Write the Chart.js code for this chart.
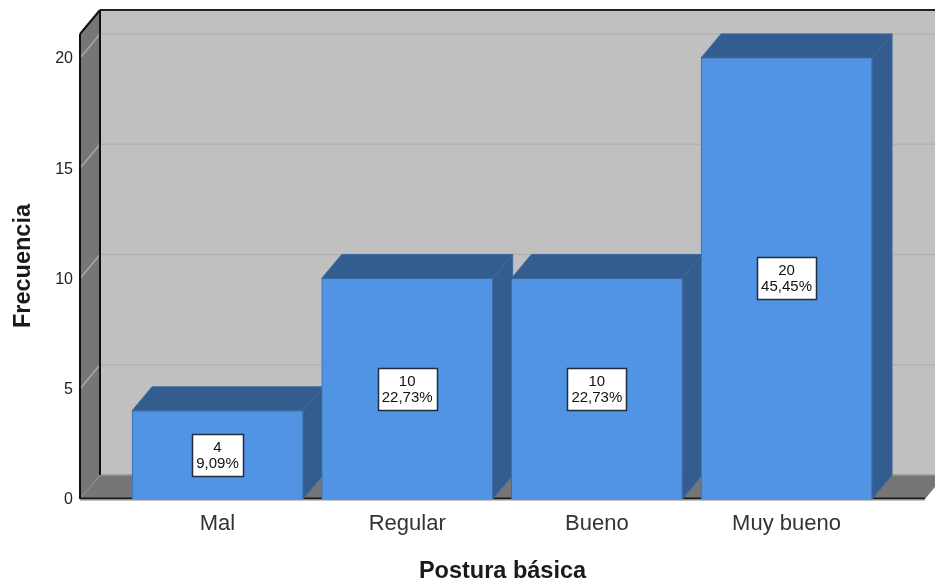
<!DOCTYPE html>
<html>
<head>
<meta charset="utf-8">
<title>Postura básica</title>
<script src="https://cdn.jsdelivr.net/npm/chart.js@4/dist/chart.umd.min.js"></script>
<style>
    html, body { margin: 0; padding: 0; background: #fff; }
    canvas { display: block; }
</style>
</head>
<body>
<canvas id="posturaChart" width="935" height="582"></canvas>
<script>
const categories = ["Mal", "Regular", "Bueno", "Muy bueno"];
const frecuencias = [4, 10, 10, 20];
const porcentajes = ["9,09%", "22,73%", "22,73%", "45,45%"];
const yTicks = [0, 5, 10, 15, 20];

// profundidad del efecto 3D
const DEPTH_X = 20;
const DEPTH_Y = 24;
const FONT = '"Liberation Sans", Arial, sans-serif';

function poly(ctx, pts, fill, stroke, lw) {
    ctx.beginPath();
    pts.forEach((p, i) => (i ? ctx.lineTo(p[0], p[1]) : ctx.moveTo(p[0], p[1])));
    ctx.closePath();
    if (fill) {
        ctx.fillStyle = fill;
        ctx.fill();
    }
    if (stroke) {
        ctx.strokeStyle = stroke;
        ctx.lineWidth = lw || 1;
        ctx.stroke();
    }
}

function line(ctx, x1, y1, x2, y2, color, lw) {
    ctx.beginPath();
    ctx.moveTo(x1, y1);
    ctx.lineTo(x2, y2);
    ctx.strokeStyle = color;
    ctx.lineWidth = lw;
    ctx.stroke();
}

// paredes, piso y rejilla de la caja 3D
const boxPlugin = {
    id: "box3d",
    beforeDatasetsDraw(chart) {
        const { ctx, chartArea: a, scales } = chart;
        const l = a.left, r = a.right, b = a.bottom;
        const topBack = 10;
        ctx.save();
        poly(ctx, [[l + DEPTH_X, topBack], [r + DEPTH_X, topBack], [r + DEPTH_X, b - DEPTH_Y], [l + DEPTH_X, b - DEPTH_Y]], "#c0c0c0");
        poly(ctx, [[l, topBack + DEPTH_Y], [l + DEPTH_X, topBack], [l + DEPTH_X, b - DEPTH_Y], [l, b]], "#767676");
        poly(ctx, [[l, b], [l + DEPTH_X, b - DEPTH_Y], [r + DEPTH_X, b - DEPTH_Y], [r, b]], "#767676");

        yTicks.forEach((v) => {
            if (v === 0) return;
            const y = scales.y.getPixelForValue(v);
            line(ctx, l, y, l + DEPTH_X, y - DEPTH_Y, "#a8a8a8", 1.5);
            line(ctx, l + DEPTH_X, y - DEPTH_Y, r + DEPTH_X, y - DEPTH_Y, "#b2b2b2", 1.5);
        });

        line(ctx, l + DEPTH_X, b - DEPTH_Y, r + DEPTH_X, b - DEPTH_Y, "#999999", 1.5);
        line(ctx, l + DEPTH_X, topBack, r + DEPTH_X, topBack, "#222222", 2);
        line(ctx, l + DEPTH_X, topBack, l + DEPTH_X, b - DEPTH_Y, "#111111", 2);
        line(ctx, l, topBack + DEPTH_Y, l + DEPTH_X, topBack, "#111111", 2);
        line(ctx, l, topBack + DEPTH_Y, l, b, "#111111", 2);
        line(ctx, l, b - 0.5, r, b - 0.5, "#1a1a1a", 2);
        line(ctx, l, b + 1, r, b + 1, "#8c8c8c", 1);

        // cara superior y lateral de cada barra
        chart.getDatasetMeta(0).data.forEach((bar) => {
            const half = bar.width / 2;
            const x1 = bar.x - half, x2 = bar.x + half, y = bar.y;
            poly(ctx, [[x2, y], [x2 + DEPTH_X, y - DEPTH_Y], [x2 + DEPTH_X, b - DEPTH_Y], [x2, b]], "#335c8f", "#3f6a9e", 1);
            poly(ctx, [[x1, y], [x1 + DEPTH_X, y - DEPTH_Y], [x2 + DEPTH_X, y - DEPTH_Y], [x2, y]], "#335c8f", "#3f6a9e", 1);
        });
        ctx.restore();
    },
    afterDatasetsDraw(chart) {
        const { ctx } = chart;
        ctx.save();
        ctx.font = "15px " + FONT;
        ctx.textAlign = "center";
        ctx.textBaseline = "middle";
        chart.getDatasetMeta(0).data.forEach((bar, i) => {
            const cy = (bar.y + chart.chartArea.bottom) / 2;
            const w = Math.ceil(ctx.measureText(porcentajes[i]).width) + 8;
            const h = 42;
            const left = Math.round(bar.x - w / 2) + 0.5;
            const top = Math.round(cy - h / 2) + 0.5;
            ctx.fillStyle = "#ffffff";
            ctx.fillRect(left, top, w, h);
            ctx.strokeStyle = "#1f2d3d";
            ctx.lineWidth = 1.5;
            ctx.strokeRect(left, top, w, h);
            ctx.fillStyle = "#111111";
            ctx.fillText(String(frecuencias[i]), bar.x, top + 13);
            ctx.fillText(porcentajes[i], bar.x, top + 29);
        });
        ctx.restore();
    },
};

new Chart(document.getElementById("posturaChart"), {
    type: "bar",
    data: {
        datasets: [
            {
                label: "Frecuencia",
                data: categories.map((c, i) => ({ x: i + 1, y: frecuencias[i] })),
                backgroundColor: "#5294e4",
                borderColor: "#3a6ea8",
                borderWidth: 1,
                barThickness: 171,
            },
        ],
    },
    plugins: [boxPlugin],
    options: {
        responsive: false,
        animation: false,
        layout: { padding: { top: 33, right: 10, left: 0, bottom: 0 } },
        plugins: {
            legend: { display: false },
            tooltip: { enabled: false },
        },
        scales: {
            x: {
                type: "linear",
                offset: false,
                min: 0.275,
                max: 4.73,
                grid: { display: false, drawTicks: false },
                border: { display: false },
                afterBuildTicks(scale) {
                    scale.ticks = categories.map((c, i) => ({ value: i + 1 }));
                },
                afterFit(scale) {
                    scale.height = 83;
                },
                ticks: {
                    autoSkip: false,
                    maxRotation: 0,
                    padding: 12,
                    color: "#333333",
                    font: { family: FONT, size: 22 },
                    callback: (value) => categories[value - 1],
                },
                title: {
                    display: true,
                    text: "Postura básica",
                    color: "#1a1a1a",
                    font: { family: FONT, size: 23.5, weight: "bold" },
                    padding: { top: 3, bottom: -4 },
                },
            },
            y: {
                min: 0,
                max: 21.13,
                grid: { display: false, drawTicks: false },
                border: { display: false },
                afterBuildTicks(scale) {
                    scale.ticks = yTicks.map((v) => ({ value: v }));
                },
                afterFit(scale) {
                    scale.width = 80;
                },
                ticks: {
                    padding: 7,
                    labelOffset: 1,
                    color: "#222222",
                    font: { family: FONT, size: 16 },
                },
                title: {
                    display: true,
                    text: "Frecuencia",
                    color: "#1a1a1a",
                    font: { family: FONT, size: 23.5, weight: "bold" },
                    padding: { top: 9, bottom: 0 },
                },
            },
        },
    },
});
</script>
</body>
</html>
